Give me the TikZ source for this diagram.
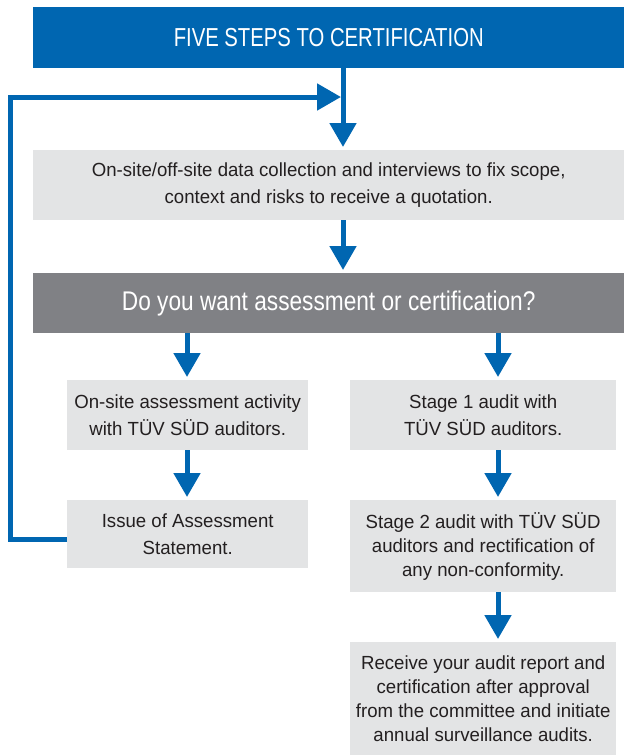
\documentclass[tikz,border=0pt]{standalone}
\usepackage{fontspec}
\setmainfont{Liberation Sans}[FakeStretch=0.98]
\newfontfamily\titlefont{Liberation Sans}[FakeStretch=0.78]
\newfontfamily\askfont{Liberation Sans}[FakeStretch=0.84]
\usetikzlibrary{arrows.meta}
\definecolor{tblue}{HTML}{0066B1}
\definecolor{dgray}{HTML}{808185}
\definecolor{lgray}{HTML}{E3E4E5}
\definecolor{dtext}{HTML}{231F20}
\begin{document}
\begin{tikzpicture}[x=1pt,y=-1pt,
  lbox/.style={fill=lgray, text=dtext, align=center, inner sep=0pt, anchor=north west,
    font=\fontsize{19}{24}\selectfont},
  loose/.style={font=\fontsize{19}{27.5}\selectfont},
  flow/.style={draw=tblue, line width=5pt, -{Triangle[width=26pt,length=24pt,fill=tblue]}, shorten >=3pt}]
\useasboundingbox (0,0) rectangle (624,755);
\node[fill=tblue, text=white, inner sep=0pt, anchor=north west, minimum width=591pt, minimum height=61pt,
  font=\titlefont\fontsize{26}{30}\selectfont] (title) at (33,7) {FIVE STEPS TO CERTIFICATION};
\node[lbox, loose, minimum width=591pt, minimum height=70pt] (data) at (33,150)
  {On-site/off-site data collection and interviews to fix scope,\\context and risks to receive a quotation.};
\node[fill=dgray, text=white, inner sep=0pt, anchor=north west, minimum width=591pt, minimum height=60pt,
  font=\askfont\fontsize{27}{30}\selectfont] (ask) at (33,273) {Do you want assessment or certification?};
\node[lbox, loose, minimum width=241pt, minimum height=70pt] (oa) at (67,380)
  {On-site assessment activity\\with TÜV SÜD auditors.};
\node[lbox, loose, minimum width=241pt, minimum height=68pt] (ia) at (67,500)
  {Issue of Assessment\\Statement.};
\node[lbox, loose, minimum width=266pt, minimum height=70pt] (s1) at (350,380)
  {Stage 1 audit with\\TÜV SÜD auditors.};
\node[lbox, minimum width=266pt, minimum height=92pt] (s2) at (350,500)
  {Stage 2 audit with TÜV SÜD\\auditors and rectification of\\any non-conformity.};
\node[lbox, minimum width=266pt, minimum height=113pt] (rc) at (350,642)
  {Receive your audit report and\\certification after approval\\from the committee and initiate\\annual surveillance audits.};
\coordinate (tx) at (343,0);
\coordinate (lx) at (187,0);
\coordinate (rx) at (498,0);
\coordinate (lc) at (10,97);
\coordinate (lp) at (343,97);
\draw[flow] (title.south -| tx) -- (data.north -| tx);
\draw[flow] (data.south -| tx) -- (ask.north -| tx);
\draw[flow] (ask.south -| lx) -- (oa.north -| lx);
\draw[flow] (ask.south -| rx) -- (s1.north -| rx);
\draw[flow] (oa.south -| lx) -- (ia.north -| lx);
\draw[flow] (s1.south -| rx) -- (s2.north -| rx);
\draw[flow] (s2.south -| rx) -- (rc.north -| rx);
\draw[flow, shorten >=2pt] ([yshift=-5pt]ia.west) -| (lc) -- (lp);
\end{tikzpicture}
\end{document}
